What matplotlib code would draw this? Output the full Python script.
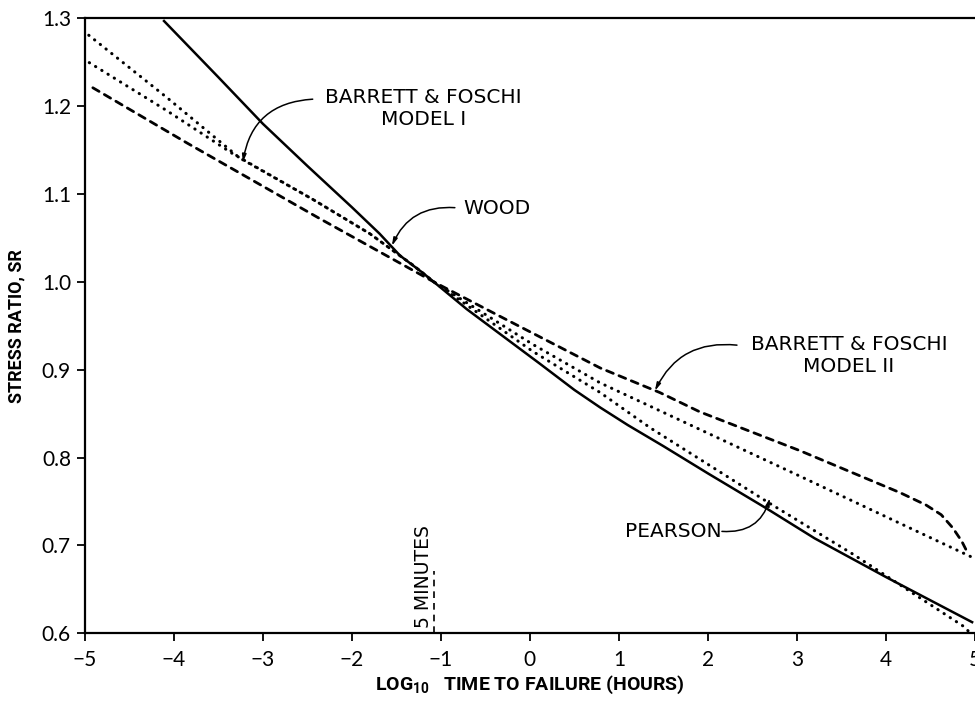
import matplotlib
matplotlib.use('Agg')
import numpy as np
from matplotlib import pyplot as plt

# curves (log10 hours, stress ratio)
wood_x = [-4.12, -3.5, -3.0, -2.5, -2.0, -1.69, -1.46, -1.2, -1.08]
wood_y = [1.298, 1.233, 1.180, 1.132, 1.085, 1.055, 1.030, 1.010, 1.0]

pearson_x = [-1.08, -0.71, 0.11, 0.5, 0.79, 1.1, 1.5, 2.0, 2.66, 3.2, 4.0, 4.98]
pearson_y = [1.0, 0.969, 0.907, 0.877, 0.857, 0.837, 0.813, 0.782, 0.742, 0.708, 0.664, 0.612]

bf1_x = [-5.02, -4.08, -3.26, -2.44, -1.8, -1.3, -1.08, 0.03, 0.79, 1.35, 2.66, 3.63, 4.87, 4.95]
bf1_y = [1.286, 1.210, 1.141, 1.094, 1.055, 1.018, 1.0, 0.921, 0.874, 0.834, 0.750, 0.690, 0.608, 0.600]

bf1b_x = [-5.02, -4.08, -3.34, -2.44, -1.8, -1.3, -1.08, 0.03, 0.79, 1.91, 3.03, 4.16, 5.0]
bf1b_y = [1.254, 1.195, 1.146, 1.094, 1.055, 1.018, 1.0, 0.929, 0.885, 0.832, 0.779, 0.725, 0.685]

bf2_x = [-4.91, -3.85, -2.36, -1.08, -0.34, 0.79, 1.46, 1.91, 3.03, 4.16, 4.45, 4.62, 4.75, 4.85, 4.91]
bf2_y = [1.221, 1.158, 1.072, 1.0, 0.961, 0.902, 0.874, 0.852, 0.808, 0.760, 0.746, 0.735, 0.720, 0.705, 0.693]

five_min = np.log10(5 / 60)

xticks = [-5, -4, -3, -2, -1, 0, 1, 2, 3, 4, 5]
yticks = [0.6, 0.7, 0.8, 0.9, 1.0, 1.1, 1.2, 1.3]

plt.rcParams['font.family'] = ['Lato', 'DejaVu Sans']
plt.rcParams['mathtext.default'] = 'regular'

fig = plt.figure(figsize=(9.75, 7.06), dpi=100)
ax = fig.add_axes([0.087, 0.103, 0.913, 0.871])

ax.plot(wood_x, wood_y, color='black', lw=1.8, solid_capstyle='butt')
ax.plot(pearson_x, pearson_y, color='black', lw=1.8, solid_capstyle='butt')
ax.plot(bf1_x, bf1_y, color='black', lw=2.2, linestyle=(0, (0.1, 2.3)), dash_capstyle='round')
ax.plot(bf1b_x, bf1b_y, color='black', lw=2.2, linestyle=(0, (0.1, 2.3)), dash_capstyle='round')
ax.plot(bf2_x, bf2_y, color='black', lw=2.0, linestyle=(0, (2.6, 2.2)), dash_capstyle='round')

ax.plot([five_min, five_min], [0.6, 0.671], color='black', lw=1.2, linestyle=(0, (4, 3)))
ax.text(five_min - 0.12, 0.606, '5 MINUTES', rotation=90, ha='center', va='bottom',
        fontsize=13.5, family='DejaVu Sans')

ann = dict(fontsize=14.5, family='DejaVu Sans', linespacing=1.2)
arrow = dict(arrowstyle='-|>,head_length=0.45,head_width=0.12', color='black', lw=1.1, shrinkA=0, shrinkB=0)

ax.text(-1.195, 1.197, 'BARRETT & FOSCHI\nMODEL I', ha='center', va='center', **ann)
ax.annotate('', xy=(-3.225, 1.136), xytext=(-2.44, 1.208),
            arrowprops=dict(arrow, connectionstyle='arc3,rad=0.4'))

ax.text(-0.75, 1.083, 'WOOD', ha='left', va='center', **ann)
ax.annotate('', xy=(-1.551, 1.041), xytext=(-0.843, 1.0845),
            arrowprops=dict(arrow, connectionstyle='arc3,rad=0.35'))

ax.text(3.584, 0.916, 'BARRETT & FOSCHI\nMODEL II', ha='center', va='center', **ann)
ax.annotate('', xy=(1.404, 0.876), xytext=(2.326, 0.928),
            arrowprops=dict(arrow, connectionstyle='arc3,rad=0.35'))

ax.text(1.067, 0.716, 'PEARSON', ha='left', va='center', **ann)
ax.annotate('', xy=(2.697, 0.754), xytext=(2.157, 0.716),
            arrowprops=dict(arrow, connectionstyle='arc3,rad=0.4'))

ax.set_xlim(-5, 5)
ax.set_ylim(0.6, 1.3)
ax.set_xticks(xticks)
ax.set_yticks(yticks)
ax.set_yticklabels(['{:.1f}'.format(v) for v in yticks])
ax.tick_params(axis='both', direction='out', length=6, width=1.3, labelsize=15)
ax.tick_params(axis='x', pad=6)
ax.tick_params(axis='y', pad=4)
ax.spines['right'].set_visible(False)
for s in ['left', 'bottom', 'top']:
    ax.spines[s].set_linewidth(1.6)

lab_font = ['Liberation Sans Narrow', 'Roboto', 'DejaVu Sans']
ax.set_ylabel('STRESS RATIO, SR', family=lab_font, fontweight='bold', fontsize=13, labelpad=12)
ax.set_xlabel(r'LOG$_{10}$   TIME TO FAILURE (HOURS)', family=lab_font, fontweight='bold',
              fontsize=14, labelpad=3)

fig.savefig('out.png', dpi=100)
